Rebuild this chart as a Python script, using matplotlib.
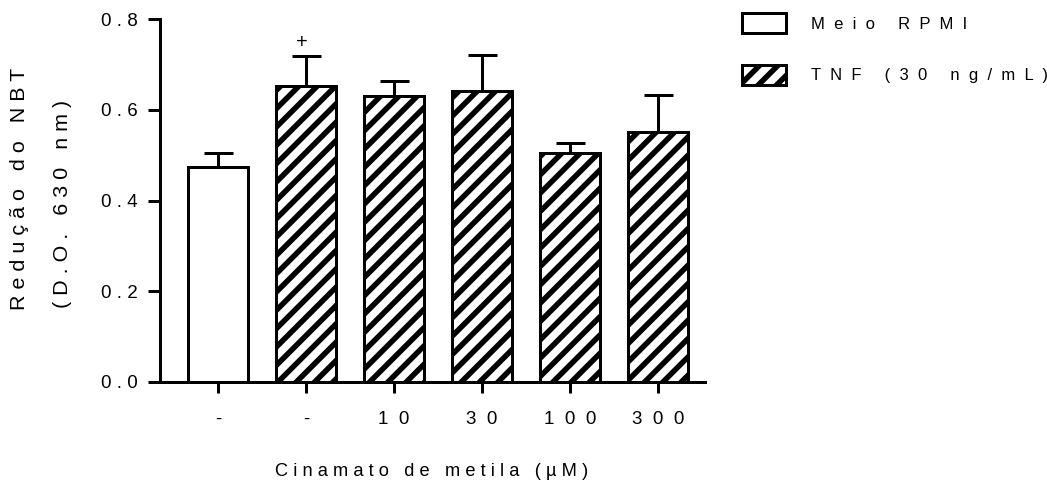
# NBT reduction in cells treated with methyl cinnamate (bar chart, mean + SEM)
import numpy as np
import matplotlib.pyplot as plt
from matplotlib.patches import Patch

DPI = 110
PX = 72 / DPI  # one pixel in points

# ------------------------------------------------------------
# Data
# ------------------------------------------------------------
doses = ["-", "-", "10", "30", "100", "300"]
nbt_mean = [0.474, 0.652, 0.630, 0.642, 0.504, 0.550]
nbt_sem = [0.031, 0.067, 0.034, 0.079, 0.023, 0.082]
with_tnf = [False, True, True, True, True, True]
legend_labels = ["Meio RPMI", "TNF (30 ng/mL)"]
y_ticks = [0.0, 0.2, 0.4, 0.6, 0.8]


def spaced(s, n=1):
    # wide letter tracking, GraphPad style
    return (" " * n).join(s)


plt.rcParams["font.family"] = ["Liberation Sans", "DejaVu Sans"]
plt.rcParams["hatch.linewidth"] = 5.5 * PX

fig = plt.figure(figsize=(1047 / DPI, 486 / DPI), dpi=DPI)
ax = fig.add_axes([160 / 1047, 104 / 486, 545 / 1047, 363 / 486])

x = np.arange(len(doses))
bars = ax.bar(x, nbt_mean, width=0.68, color="white", edgecolor="black",
              linewidth=3 * PX, zorder=2)
for b, tnf in zip(bars, with_tnf):
    if tnf:
        b.set_hatch("//")

# upper error bars only
ax.errorbar(x, nbt_mean, yerr=[np.zeros(len(x)), nbt_sem], fmt="none",
            ecolor="black", elinewidth=3 * PX, capsize=14.5 * PX,
            capthick=3 * PX, zorder=1)

# significance mark over TNF alone
ax.annotate("+", (1, nbt_mean[1] + nbt_sem[1]), xytext=(-4 * PX, 13 * PX),
            textcoords="offset points", ha="center", va="center",
            fontsize=20 * PX)

ax.set_xlim(-0.659, 5.534)
ax.set_ylim(0, 0.8)
for side in ["top", "right"]:
    ax.spines[side].set_visible(False)
for side in ["left", "bottom"]:
    ax.spines[side].set_linewidth(3 * PX)

ax.set_xticks(x)
ax.set_xticklabels([spaced(d, 2) for d in doses], fontsize=18.7 * PX)
ax.set_yticks(y_ticks)
ax.set_yticklabels([spaced(f"{v:.1f}") for v in y_ticks], fontsize=18.7 * PX)
ax.tick_params(axis="y", length=12 * PX, width=3 * PX, pad=10 * PX)
ax.tick_params(axis="x", length=11 * PX, width=3 * PX, pad=18 * PX)

# axis titles
fig.text(20 / 1047, 1 - 189 / 486, spaced("Redução do NBT"), rotation=90,
         ha="center", va="center", fontsize=21.5 * PX)
fig.text(62 / 1047, 1 - 204 / 486, spaced("(D.O. 630 nm)"), rotation=90,
         ha="center", va="center", fontsize=21.5 * PX)
fig.text(432 / 1047, 1 - 472 / 486, spaced("Cinamato de metila (µM)"),
         ha="center", va="center", fontsize=18.3 * PX)

# legend
handles = [
    Patch(facecolor="white", edgecolor="black", linewidth=3 * PX),
    Patch(facecolor="white", edgecolor="black", linewidth=3 * PX, hatch="//"),
]
fig.legend(handles, [spaced(l, 2) for l in legend_labels], loc="upper left",
           bbox_to_anchor=(742 / 1047, 1 - 13 / 486), frameon=False,
           borderpad=0, borderaxespad=0, fontsize=16.7 * PX, handlelength=2.63,
           handleheight=1.5, handletextpad=1.5, labelspacing=1.88)

fig.savefig("out.png", dpi=DPI)
